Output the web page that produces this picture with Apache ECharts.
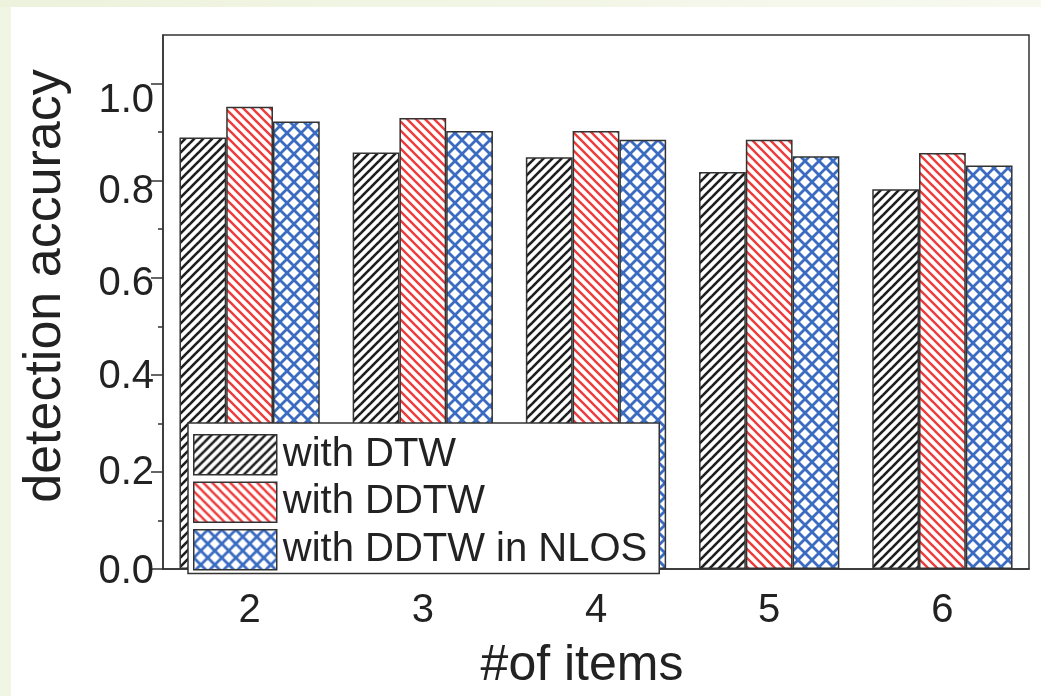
<!DOCTYPE html>
<html>
<head>
<meta charset="utf-8">
<script src="https://cdn.jsdelivr.net/npm/echarts@6/dist/echarts.min.js"></script>
<style>
  html, body { margin: 0; padding: 0; width: 1041px; height: 696px; overflow: hidden; background: #f1f5e4; }
  #topband { position: absolute; left: 0; top: 0; width: 1041px; height: 7px;
             background: linear-gradient(to right, #edf2dc, #f7f9ef); }
  #panel { position: absolute; left: 11px; top: 7px; width: 1030px; height: 689px; background: #ffffff; }
  #chart { position: absolute; left: 0; top: 0; width: 1041px; height: 696px; }
</style>
</head>
<body>
<div id="topband"></div>
<div id="panel"></div>
<div id="chart"></div>
<script>
// Detection accuracy by number of items
const categories = ['2', '3', '4', '5', '6'];
const dtwAccuracy = [0.889, 0.858, 0.848, 0.818, 0.782];
const ddtwAccuracy = [0.952, 0.929, 0.902, 0.884, 0.857];
const nlosAccuracy = [0.922, 0.902, 0.884, 0.850, 0.831];
const seriesNames = ['with DTW', 'with DDTW', 'with DDTW in NLOS'];
const yMajorTicks = [0, 0.2, 0.4, 0.6, 0.8, 1.0];
const yMinorTicks = [0.1, 0.3, 0.5, 0.7, 0.9];

const FONT = "'Liberation Sans', Arial, Helvetica, sans-serif";
const INK = '#222222';
const EDGE = '#333333';

// Hatch fills drawn into small repeating canvas tiles
function hatchTile(size, color, width, dirs) {
  const c = document.createElement('canvas');
  c.width = size; c.height = size;
  const g = c.getContext('2d');
  g.fillStyle = '#ffffff';
  g.fillRect(0, 0, size, size);
  g.strokeStyle = color;
  g.lineWidth = width;
  g.lineCap = 'square';
  dirs.forEach(function (d) {
    for (let k = -1; k <= 1; k++) {
      g.beginPath();
      if (d === '/') {
        g.moveTo(k * size - 1, size + 1);
        g.lineTo(k * size + size + 1, -1);
      } else {
        g.moveTo(k * size - 1, -1);
        g.lineTo(k * size + size + 1, size + 1);
      }
      g.stroke();
    }
  });
  return { image: c, repeat: 'repeat' };
}

const fillDTW = hatchTile(9, '#1e1e1e', 2.6, ['/']);
const fillDDTW = hatchTile(9, '#ef3b3b', 2.4, ['\\']);
const fillNLOS = hatchTile(14, '#3b6cc2', 2.8, ['/', '\\']);

// per-label vertical nudges of the y tick labels
const yLabelShift = { '0.0': 3, '0.2': 1, '0.4': 2, '0.6': 6, '0.8': 11, '1.0': 17 };
const yRichKeys = Object.keys(yLabelShift);
const yRich = {};
yRichKeys.forEach(function (k, i) {
  yRich['s' + i] = { fontSize: 40, fontFamily: FONT, color: INK, padding: [yLabelShift[k] * 2, 0, 0, 0] };
});

function barSeries(name, values, fill) {
  return {
    name: name,
    type: 'bar',
    data: values,
    barGap: '0%',
    barCategoryGap: '19%',
    itemStyle: { color: fill, borderColor: EDGE, borderWidth: 1.5 },
    emphasis: { disabled: true }
  };
}

const chart = echarts.init(document.getElementById('chart'), null, { renderer: 'canvas' });
chart.setOption({
  backgroundColor: 'transparent',
  animation: false,
  grid: {
    left: 163, right: 12, top: 35, bottom: 126,
    show: true, borderColor: EDGE, borderWidth: 1.5, backgroundColor: 'transparent'
  },
  legend: {
    orient: 'vertical',
    left: 188, top: 423,
    padding: [11, 12, 3, 5],
    itemGap: 6,
    itemWidth: 83, itemHeight: 40,
    icon: 'rect',
    selectedMode: false,
    backgroundColor: '#ffffff',
    borderColor: EDGE, borderWidth: 1.5,
    itemStyle: { borderColor: EDGE, borderWidth: 1.5 },
    textStyle: { fontSize: 40, fontFamily: FONT, color: INK, padding: [0, 0, 0, 1] },
    data: seriesNames
  },
  xAxis: [
    {
      type: 'category',
      data: categories,
      name: '#of items',
      nameLocation: 'middle',
      nameGap: 72,
      nameTextStyle: { fontSize: 50, fontFamily: FONT, color: INK, padding: [0, 28, 0, 0] },
      axisLine: { lineStyle: { color: EDGE, width: 1.5 } },
      axisTick: { alignWithLabel: true, length: 13, lineStyle: { color: EDGE, width: 1.5 } },
      axisLabel: { fontSize: 40, fontFamily: FONT, color: INK, margin: 22 },
      splitLine: { show: false }
    },
    {
      // short ticks on the category boundaries
      type: 'category',
      data: categories,
      position: 'bottom',
      axisLine: { show: false },
      axisTick: { alignWithLabel: false, length: 7, lineStyle: { color: EDGE, width: 1.5 } },
      axisLabel: { show: false },
      splitLine: { show: false }
    }
  ],
  yAxis: [
    {
      type: 'value',
      min: 0, max: 1.1,
      interval: 0.2,
      name: 'detection accuracy',
      nameLocation: 'middle',
      nameGap: 91,
      nameRotate: 90,
      nameTextStyle: { fontSize: 52, fontFamily: FONT, color: INK, padding: [0, 0, 0, 32] },
      axisLine: { show: true, lineStyle: { color: EDGE, width: 1.5 } },
      axisTick: { show: true, length: 12, customValues: yMajorTicks, lineStyle: { color: EDGE, width: 1.5 } },
      axisLabel: {
        customValues: yMajorTicks,
        margin: 9,
        fontSize: 40, fontFamily: FONT, color: INK,
        formatter: function (v) {
          const t = v.toFixed(1);
          return '{s' + yRichKeys.indexOf(t) + '|' + t + '}';
        },
        rich: yRich
      },
      splitLine: { show: false }
    },
    {
      // minor ticks at the odd tenths
      type: 'value',
      min: 0, max: 1.1,
      position: 'left',
      axisLine: { show: false },
      axisTick: { show: true, length: 5, customValues: yMinorTicks, lineStyle: { color: EDGE, width: 1.5 } },
      axisLabel: { show: false },
      splitLine: { show: false }
    }
  ],
  series: [
    barSeries(seriesNames[0], dtwAccuracy, fillDTW),
    barSeries(seriesNames[1], ddtwAccuracy, fillDDTW),
    barSeries(seriesNames[2], nlosAccuracy, fillNLOS)
  ]
});
</script>
</body>
</html>
